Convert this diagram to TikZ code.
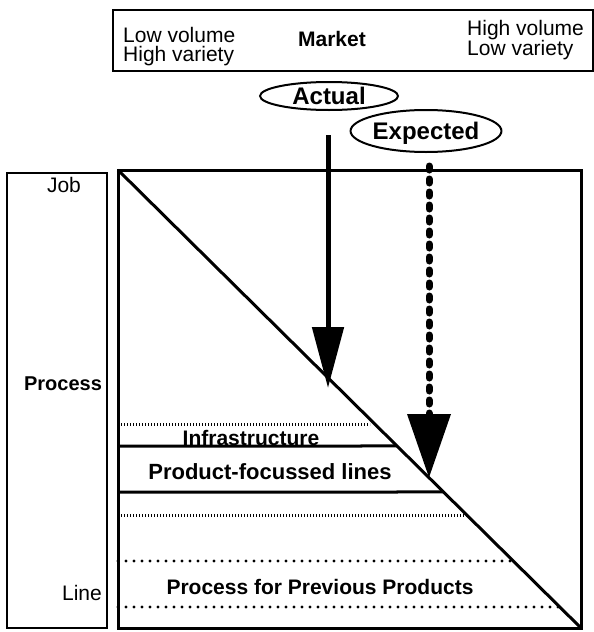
\documentclass[tikz,border=0pt]{standalone}
\usepackage{fontspec}
\setmainfont{Liberation Sans}
\usetikzlibrary{positioning}
\usetikzlibrary{calc}
\usetikzlibrary{shapes.geometric}
\usetikzlibrary{arrows.meta}

\begin{document}
\begin{tikzpicture}[x=1pt,y=-1pt,
  txt/.style={font=\fontsize{21}{19}\selectfont, inner sep=0pt, align=left},
  btxt/.style={txt, font=\fontsize{21}{19}\selectfont\bfseries},
  oval/.style={draw, ellipse, line width=2pt, inner sep=0pt, font=\fontsize{24}{24}\selectfont\bfseries},
  band/.style={line width=3pt},
  hatch/.style={line width=3pt, dash pattern=on 1pt off 2pt},
  dots/.style={line width=3.4pt, dash pattern=on 0pt off 8pt, line cap=round}]
  \useasboundingbox (0,0) rectangle (594,632);

  % market axis
  \draw[line width=2pt] (113,10) rectangle (593,71);
  \node[txt, anchor=north west] (lv) at (123,27) {Low volume\\High variety};
  \node[btxt, anchor=base] (mk) at (332,46) {Market};
  \node[txt, anchor=north west] (hv) at (467,20) {High volume\\Low variety};

  \node[oval, minimum width=138pt, minimum height=28pt] (act) at (329,96) {Actual};
  \node[oval, minimum width=128pt, minimum height=42pt, text depth=0pt] (exp) at (426,131) {Expected};

  % process axis
  \draw[line width=2pt] (7,173) rectangle (107,628);
  \node[txt, anchor=base] (job) at (64,192) {Job};
  \node[btxt, font=\fontsize{20}{19}\selectfont\bfseries, anchor=base] (proc) at (63,390) {Process};
  \node[txt, anchor=base east] (line) at (102,600) {Line};

  % matrix
  \coordinate (tl) at (118,170);
  \coordinate (br) at (581,628);
  \draw[line width=3pt] (tl) rectangle (br);
  \draw[line width=3pt] (tl) -- (br);

  \coordinate (i0) at (118,446);
  \coordinate (p0) at (118,492);
  \coordinate (d0) at (118,561);
  \coordinate (d1) at (118,607);
  \draw[hatch] (118,424) -- (370,424);
  \draw[band] (i0) -- (intersection of i0--{[xshift=100pt]i0} and tl--br);
  \draw[band] (p0) -- (intersection of p0--{[xshift=100pt]p0} and tl--br);
  \draw[hatch] (118,515) -- (467,515);
  \draw[dots] (d0) -- (intersection of d0--{[xshift=100pt]d0} and tl--br);
  \draw[dots] (d1) -- (intersection of d1--{[xshift=100pt]d1} and tl--br);

  \node[btxt, anchor=base] (inf) at (251,445) {Infrastructure};
  \node[btxt, font=\fontsize{22}{19}\selectfont\bfseries, anchor=base] (pfl) at (270,479) {Product-focussed lines};
  \node[btxt, anchor=base] (ppp) at (320,594) {Process for Previous Products};

  % arrows
  \coordinate (a0) at (328,135);
  \coordinate (a1) at (328,388);
  \coordinate (e0) at (429,166);
  \coordinate (e1) at (429,478);
  \draw[line width=5pt, -{Triangle[width=31pt,length=61pt]}] (a0) -- (a1);
  \draw[line width=7pt, dash pattern=on 4pt off 9pt, line cap=round, -{Triangle[width=42pt,length=64pt]}] (e0) -- (e1);
\end{tikzpicture}
\end{document}
